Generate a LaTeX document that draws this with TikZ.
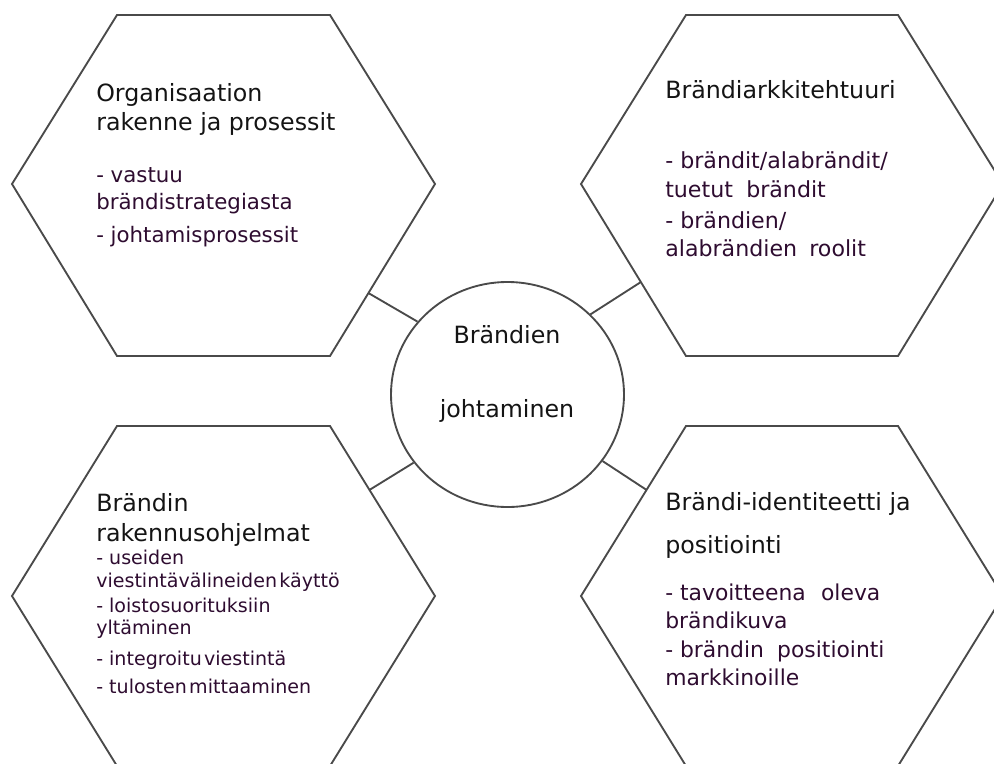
\documentclass[tikz,border=0pt]{standalone}
\usepackage{fontspec}
\setmainfont{DejaVu Sans}
\usetikzlibrary{shapes.geometric,calc}
\definecolor{edge}{HTML}{4A4A4A}
\definecolor{ttlcol}{HTML}{141414}
\definecolor{bulcol}{HTML}{2E0C30}
\begin{document}
\begin{tikzpicture}[x=0.75pt,y=-0.75pt,
  hexa/.style={draw=edge,line width=1.4pt,line join=miter},
  link/.style={draw=edge,line width=1.4pt},
  ttl/.style={anchor=base west,inner sep=0pt,text=ttlcol,font=\fontsize{17.8}{20}\selectfont},
  ctr/.style={anchor=base,inner sep=0pt,text=ttlcol,font=\fontsize{17.8}{20}\selectfont},
  bula/.style={anchor=base west,inner sep=0pt,text=bulcol,font=\fontsize{16}{18}\selectfont},
  bulb/.style={anchor=base west,inner sep=0pt,text=bulcol,font=\fontsize{16.6}{18}\selectfont},
  bulc/.style={anchor=base west,inner sep=0pt,text=bulcol,font=\fontsize{14.3}{16}\selectfont},
  bulr/.style={anchor=base west,inner sep=0pt,text=bulcol,font=\fontsize{16.4}{18}\selectfont}]
\useasboundingbox (0,0) rectangle (994,763);
\clip (0,0) rectangle (994,763);
% hexagon corners
\coordinate (a1) at (117,15);  \coordinate (a2) at (330,15);  \coordinate (a3) at (435,184);
\coordinate (a4) at (330,356); \coordinate (a5) at (117,356); \coordinate (a6) at (12,184);
\coordinate (b1) at (686,15);  \coordinate (b2) at (898,15);  \coordinate (b3) at (1003,184);
\coordinate (b4) at (898,356); \coordinate (b5) at (686,356); \coordinate (b6) at (581,184);
\coordinate (c1) at (117,426); \coordinate (c2) at (330,426); \coordinate (c3) at (435,596);
\coordinate (c4) at (330,766); \coordinate (c5) at (117,766); \coordinate (c6) at (12,596);
\coordinate (d1) at (686,426); \coordinate (d2) at (898,426); \coordinate (d3) at (1003,596);
\coordinate (d4) at (898,766); \coordinate (d5) at (686,766); \coordinate (d6) at (581,596);
\draw[hexa] (a1)--(a2)--(a3)--(a4)--(a5)--(a6)--cycle;
\draw[hexa] (b1)--(b2)--(b3)--(b4)--(b5)--(b6)--cycle;
\draw[hexa] (c1)--(c2)--(c3)--(c4)--(c5)--(c6)--cycle;
\draw[hexa] (d1)--(d2)--(d3)--(d4)--(d5)--(d6)--cycle;
% centre
\node[ellipse,draw=edge,line width=1.4pt,minimum width=174.75pt,minimum height=168.75pt,inner sep=0pt] (circ) at (507.5,394.5) {};
\node[ctr] (cA) at (507,343) {Brändien};
\node[ctr] (cB) at (507,417) {johtaminen};
% connectors
\coordinate (pa) at ($(a3)!0.634!(a4)$);
\coordinate (pb) at ($(b6)!0.57!(b5)$);
\coordinate (pc) at ($(c2)!0.376!(c3)$);
\coordinate (pd) at ($(d1)!0.376!(d6)$);
\draw[link] (pa) -- (circ.141.5);
\draw[link] (pb) -- (circ.44.8);
\draw[link] (pc) -- (circ.216.3);
\draw[link] (pd) -- (circ.325.7);
% top-left texts
\node[ttl] (tl1) at (96,102) {Organisaation};
\node[ttl] (tl2) at (96,131) {rakenne ja prosessit};
\node[bula] (tl3) at (96,182) {- vastuu};
\node[bula] (tl4) at (96,209) {brändistrategiasta};
\node[bula] (tl5) at (96,242) {- johtamisprosessit};
% top-right texts
\node[ttl] (tr1) at (665,99) {Brändiarkkitehtuuri};
\node[bulb] (tr2) at (665,168) {- brändit/alabrändit/};
\node[bulb] (tr3) at (665,197) {tuetut\hspace{0.6em}brändit};
\node[bulb] (tr4) at (665,228) {- brändien/};
\node[bulb] (tr5) at (665,256) {alabrändien\hspace{0.55em}roolit};
% bottom-left texts
\node[ttl] (bl1) at (96,511) {Brändin};
\node[ttl] (bl2) at (96,541) {rakennusohjelmat};
\node[bulc] (bl3) at (96,564) {- useiden};
\node[bulc] (bl4) at (96,587) {viestintävälineiden\hspace{0.12em}käyttö};
\node[bulc] (bl5) at (96,612) {- loistosuorituksiin};
\node[bulc] (bl6) at (96,634) {yltäminen};
\node[bulc] (bl7) at (96,665) {- integroitu\hspace{0.12em}viestintä};
\node[bulc] (bl8) at (96,693) {- tulosten\hspace{0.12em}mittaaminen};
% bottom-right texts
\node[ttl] (br1) at (665,510) {Brändi-identiteetti ja};
\node[ttl] (br2) at (665,553) {positiointi};
\node[bulr] (br3) at (665,600) {- tavoitteena\hspace{0.7em}oleva};
\node[bulr] (br4) at (665,628) {brändikuva};
\node[bulr] (br5) at (665,657) {- brändin\hspace{0.6em}positiointi};
\node[bulr] (br6) at (665,685) {markkinoille};
\end{tikzpicture}
\end{document}
